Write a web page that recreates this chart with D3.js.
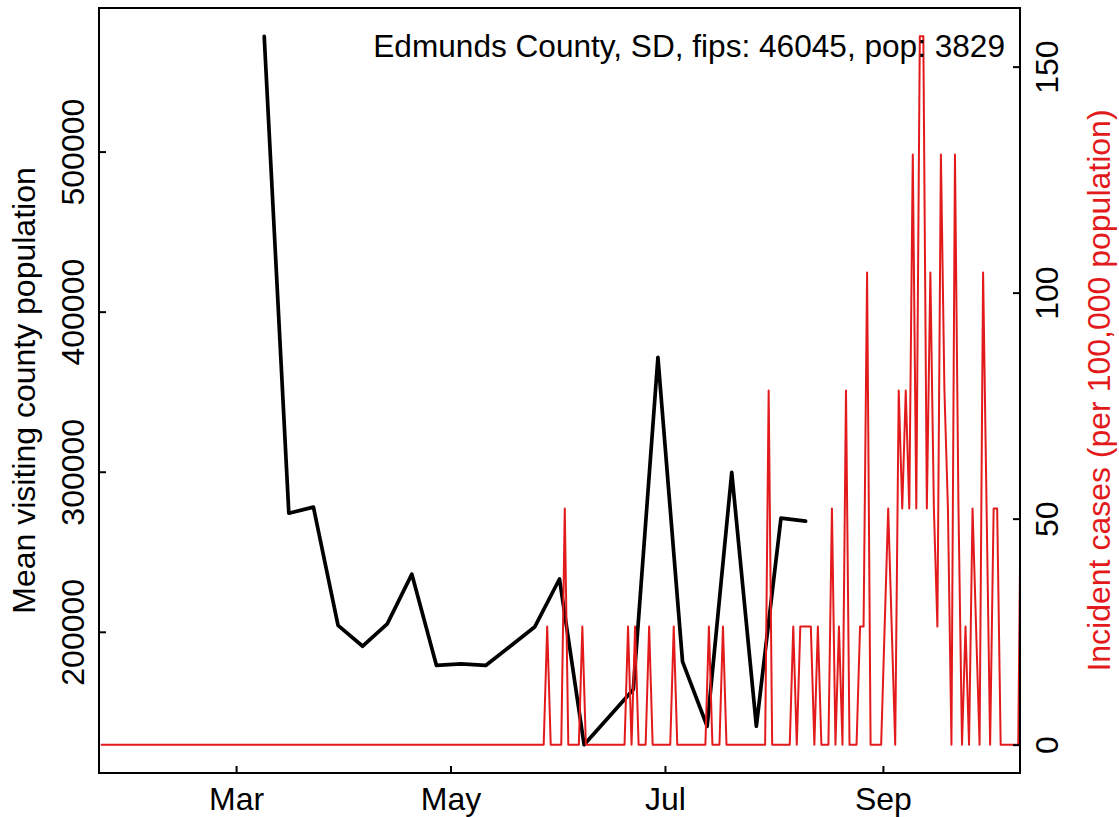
<!DOCTYPE html>
<html>
<head>
<meta charset="utf-8">
<script src="https://cdn.jsdelivr.net/npm/d3@7"></script>
<style>
  body { margin: 0; background: #fff; }
  text { font-family: "Liberation Sans", Arial, sans-serif; }
</style>
</head>
<body>
<svg id="chart" width="1119" height="817"></svg>
<script>
// weekly mean visiting population (black)
const visitDates = ['2020-03-09', '2020-03-16', '2020-03-23', '2020-03-30', '2020-04-06', '2020-04-13',
  '2020-04-20', '2020-04-27', '2020-05-04', '2020-05-11', '2020-05-18', '2020-05-25', '2020-06-01',
  '2020-06-08', '2020-06-22', '2020-06-29', '2020-07-06', '2020-07-13', '2020-07-20', '2020-07-27',
  '2020-08-03', '2020-08-10'];
const visitValues = [572000, 274100, 277900, 204000, 191000, 205000, 236000, 179000, 180000, 179000,
  191000, 203200, 233000, 129500, 164000, 371500, 181400, 141000, 299600, 141000, 271000, 269100];

// daily new cases, one value per day from caseStart
const caseStart = '2020-01-22';
const dailyCases = [
  0,0,0,0,0,0,0,0,0,0, 0,0,0,0,0,0,0,0,0,0, 0,0,0,0,0,0,0,0,0,0, 0,0,0,0,0,0,0,0,0,0,
  0,0,0,0,0,0,0,0,0,0, 0,0,0,0,0,0,0,0,0,0, 0,0,0,0,0,0,0,0,0,0, 0,0,0,0,0,0,0,0,0,0,
  0,0,0,0,0,0,0,0,0,0, 0,0,0,0,0,0,0,0,0,0, 0,0,0,0,0,0,0,0,0,0, 0,0,0,0,0,0,0,0,0,0,
  0,0,0,0,0,0,0,1,0,0, 0,0,2,0,0,0,0,1,0,0, 0,0,0,0,0,0,0,0,0,0, 1,0,1,0,0,0,1,0,0,0,
  0,0,0,1,0,0,0,0,0,0, 0,0,0,1,0,0,0,1,0,0, 0,0,0,0,0,0,0,0,0,0, 3,0,0,0,0,0,0,1,0,1,
  1,1,1,0,1,0,0,0,2,0, 1,0,3,0,0,0,1,1,4,0, 0,0,0,1,2,1,0,3,2,3, 2,5,2,6,6,2,4,2,1,5,
  3,2,0,5,2,0,1,0,2,1, 0,4,2,0,2,2,0,0,0,0, 0,0,3
];
const countyPop = 3829;

const xTickDates = ['2020-03-01', '2020-05-01', '2020-07-01', '2020-09-01'];
const xTickLabels = ['Mar', 'May', 'Jul', 'Sep'];
const leftTicks = [200000, 300000, 400000, 500000];
const rightTicks = [0, 50, 100, 150];

const titleText = 'Edmunds County, SD, fips: 46045, pop: 3829';
const leftLabel = 'Mean visiting county population';
const rightLabel = 'Incident cases (per 100,000 population)';

const parse = d3.timeParse('%Y-%m-%d');
const red = '#e31a1c';
const fontSize = 32;

const box = { left: 99, right: 1020, top: 8, bottom: 773 };

const visits = visitDates.map((d, i) => ({ date: parse(d), value: visitValues[i] }));
const start = parse(caseStart);
const cases = dailyCases.map((c, i) => ({
  date: d3.timeHour.offset(d3.timeDay.offset(start, i), 12),
  value: c / countyPop * 100000
}));

const svg = d3.select('#chart');

const x = d3.scaleTime()
  .domain([parse('2020-01-22'), parse('2020-10-10')])
  .range([box.left, box.right]);

// R style 4% padding on both y axes
const pad = (lo, hi) => [lo - (hi - lo) * 0.04, hi + (hi - lo) * 0.04];
const yLeft = d3.scaleLinear()
  .domain(pad(d3.min(visitValues), d3.max(visitValues)))
  .range([box.bottom, box.top]);
const yRight = d3.scaleLinear()
  .domain(pad(0, d3.max(cases, d => d.value)))
  .range([box.bottom, box.top]);

svg.append('defs').append('clipPath')
  .attr('id', 'plotClip')
  .append('rect')
  .attr('x', box.left)
  .attr('y', box.top)
  .attr('width', box.right - box.left)
  .attr('height', box.bottom - box.top);

const plot = svg.append('g').attr('clip-path', 'url(#plotClip)');

plot.append('path')
  .datum(visits)
  .attr('fill', 'none')
  .attr('stroke', '#000')
  .attr('stroke-width', 3.7)
  .attr('stroke-linejoin', 'round')
  .attr('stroke-linecap', 'round')
  .attr('d', d3.line().x(d => x(d.date)).y(d => yLeft(d.value)));

plot.append('path')
  .datum(cases)
  .attr('fill', 'none')
  .attr('stroke', red)
  .attr('stroke-width', 2)
  .attr('stroke-linejoin', 'round')
  .attr('d', d3.line().x(d => x(d.date)).y(d => yRight(d.value)));

// axes, ticks point inward
const bottomAxis = svg.append('g')
  .attr('transform', `translate(0, ${box.bottom})`)
  .call(d3.axisBottom(x)
    .tickValues(xTickDates.map(parse))
    .tickFormat((d, i) => xTickLabels[i])
    .tickSizeInner(-7)
    .tickSizeOuter(0)
    .tickPadding(14));

const leftAxis = svg.append('g')
  .attr('transform', `translate(${box.left}, 0)`)
  .call(d3.axisLeft(yLeft)
    .tickValues(leftTicks)
    .tickFormat(d3.format('d'))
    .tickSizeInner(-7)
    .tickSizeOuter(0));

const rightAxis = svg.append('g')
  .attr('transform', `translate(${box.right}, 0)`)
  .call(d3.axisRight(yRight)
    .tickValues(rightTicks)
    .tickFormat(d3.format('d'))
    .tickSizeInner(-7)
    .tickSizeOuter(0));

[bottomAxis, leftAxis, rightAxis].forEach(g => {
  g.select('.domain').remove();
  g.selectAll('line').attr('stroke', '#000').attr('stroke-width', 2);
  g.selectAll('text')
    .attr('fill', '#000')
    .style('font-size', fontSize + 'px')
    .style('font-family', '"Liberation Sans", Arial, sans-serif');
});

leftAxis.selectAll('text')
  .attr('x', null).attr('dy', null).attr('y', 0)
  .attr('text-anchor', 'middle')
  .attr('transform', 'translate(-15, 0) rotate(-90)');

rightAxis.selectAll('text')
  .attr('x', null).attr('dy', null).attr('y', 0)
  .attr('text-anchor', 'middle')
  .attr('transform', 'translate(38, 0) rotate(-90)');

svg.append('rect')
  .attr('x', box.left)
  .attr('y', box.top)
  .attr('width', box.right - box.left)
  .attr('height', box.bottom - box.top)
  .attr('fill', 'none')
  .attr('stroke', '#000')
  .attr('stroke-width', 2);

svg.append('text')
  .attr('x', 1005)
  .attr('y', 57)
  .attr('text-anchor', 'end')
  .style('font-size', '31.6px')
  .text(titleText);

svg.append('text')
  .attr('transform', `translate(35, ${(box.top + box.bottom) / 2}) rotate(-90)`)
  .attr('text-anchor', 'middle')
  .style('font-size', fontSize + 'px')
  .text(leftLabel);

svg.append('text')
  .attr('transform', `translate(1110, ${(box.top + box.bottom) / 2}) rotate(-90)`)
  .attr('text-anchor', 'middle')
  .attr('fill', red)
  .style('font-size', fontSize + 'px')
  .text(rightLabel);
</script>
</body>
</html>
